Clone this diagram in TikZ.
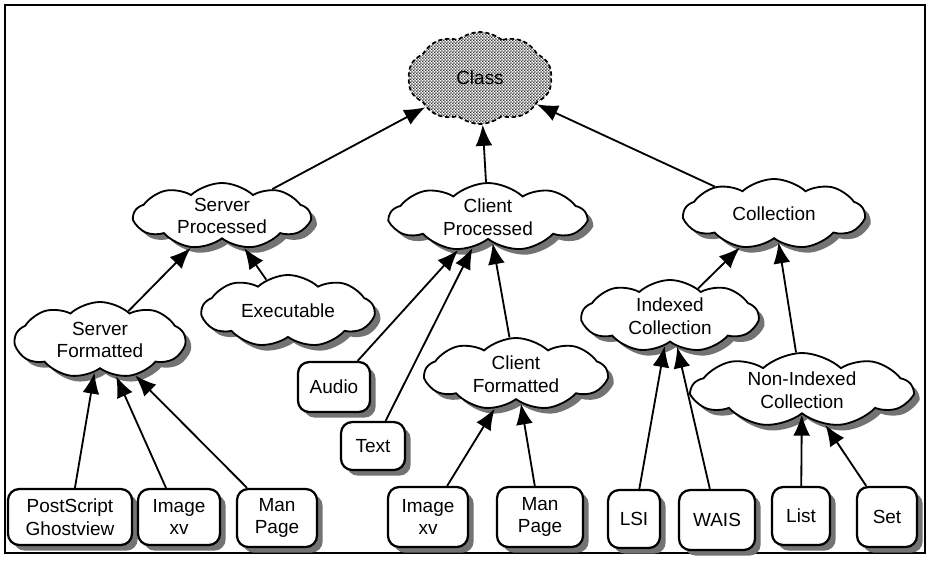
\documentclass[tikz,border=0pt]{standalone}
\usepackage{xcolor}
\usepackage{fontspec}
\setmainfont{Liberation Sans}
\usetikzlibrary{shapes.symbols,shadows,patterns,arrows.meta}

\pgfdeclarepatternformonly{finedots}{\pgfpointorigin}{\pgfpoint{2pt}{2pt}}{\pgfpoint{2pt}{2pt}}{%
  \pgfpathcircle{\pgfpoint{0.5pt}{0.5pt}}{0.7pt}%
  \pgfpathcircle{\pgfpoint{1.5pt}{1.5pt}}{0.7pt}%
  \pgfusepath{fill}}

\begin{document}
\begin{tikzpicture}[x=0.025cm,y=-0.025cm,
  font=\fontsize{13.5}{16}\selectfont,
  shade/.style={drop shadow={shadow xshift=4pt,shadow yshift=-4pt,opacity=1,
      fill=black!55}},
  blob/.style={cloud,cloud puffs=9,cloud puff arc=85,cloud ignores aspect,
      draw,line width=1.3pt,fill=white,align=center,inner sep=0pt,shade},
  root/.style={cloud,cloud puffs=10,cloud puff arc=80,cloud ignores aspect,
      draw,densely dashed,line width=1.2pt,align=center,inner sep=0pt,
      pattern=finedots,pattern color=black!80},
  leaf/.style={rectangle,rounded corners=8pt,draw,line width=1.6pt,fill=white,
      align=center,inner sep=2pt,minimum height=1.45cm,shade},
  isa/.style={-{Latex[length=15pt,width=12pt]},line width=1.3pt}]

  \useasboundingbox (0,0) rectangle (931,560);
  \draw[line width=1.9pt] (5,5) rectangle (925,553);

  \node[root,minimum width=3.6cm,minimum height=2.3cm] (class) at (480,78) {Class};

  \node[blob,minimum width=4.4cm,minimum height=1.65cm] (srvproc) at (222,216) {Server\\Processed};
  \node[blob,minimum width=4.9cm,minimum height=1.7cm] (cliproc) at (488,217) {Client\\Processed};
  \node[blob,minimum width=4.5cm,minimum height=1.75cm] (coll) at (774,214) {Collection};

  \node[blob,minimum width=4.25cm,minimum height=1.9cm] (srvfmt) at (100,340) {Server\\Formatted};
  \node[blob,minimum width=4.3cm,minimum height=1.8cm] (exec) at (288,311) {Executable};
  \node[blob,minimum width=4.4cm,minimum height=1.8cm] (idxcoll) at (670,316) {Indexed\\Collection};
  \node[blob,minimum width=4.55cm,minimum height=1.8cm] (clifmt) at (516,374) {Client\\Formatted};
  \node[blob,minimum width=5.5cm,minimum height=1.85cm] (nonidx) at (802,390) {Non-Indexed\\Collection};

  \node[leaf,minimum width=1.8cm,minimum height=1.25cm] (audio) at (334,387) {Audio};
  \node[leaf,minimum width=1.6cm,minimum height=1.2cm] (text) at (373,446) {Text};

  \node[leaf,minimum width=3.1cm,minimum height=1.4cm] (ps) at (70,517) {PostScript\\Ghostview};
  \node[leaf,minimum width=2.05cm,minimum height=1.4cm] (imgA) at (179,517) {Image\\xv};
  \node[leaf,minimum width=2cm] (manA) at (277,518) {Man\\Page};
  \node[leaf,minimum width=2cm,minimum height=1.5cm] (imgB) at (428,517) {Image\\xv};
  \node[leaf,minimum width=2.15cm,minimum height=1.5cm] (manB) at (540,517) {Man\\Page};
  \node[leaf,minimum width=1.3cm] (lsi) at (634,519) {LSI};
  \node[leaf,minimum width=1.9cm,minimum height=1.5cm] (wais) at (717,520) {WAIS};
  \node[leaf,minimum width=1.45cm] (list) at (801,516) {List};
  \node[leaf,minimum width=1.5cm,minimum height=1.5cm] (set) at (887,517) {Set};

  \draw[isa] (srvproc) -- (class);
  \draw[isa] (cliproc) -- (class);
  \draw[isa] (coll) -- (class);

  \draw[isa] (srvfmt) -- (srvproc);
  \draw[isa] (exec) -- (srvproc);
  \draw[isa] (ps) -- (srvfmt);
  \draw[isa] (imgA) -- (srvfmt);
  \draw[isa] (manA) -- (srvfmt);

  \draw[isa] (audio) -- (cliproc);
  \draw[isa] (text) -- (cliproc);
  \draw[isa] (clifmt) -- (cliproc);
  \draw[isa] (imgB) -- (clifmt);
  \draw[isa] (manB) -- (clifmt);

  \draw[isa] (idxcoll) -- (coll);
  \draw[isa] (nonidx) -- (coll);
  \draw[isa] (lsi) -- (idxcoll);
  \draw[isa] (wais) -- (idxcoll);
  \draw[isa] (list) -- (nonidx);
  \draw[isa] (set) -- (nonidx);

\end{tikzpicture}
\end{document}
